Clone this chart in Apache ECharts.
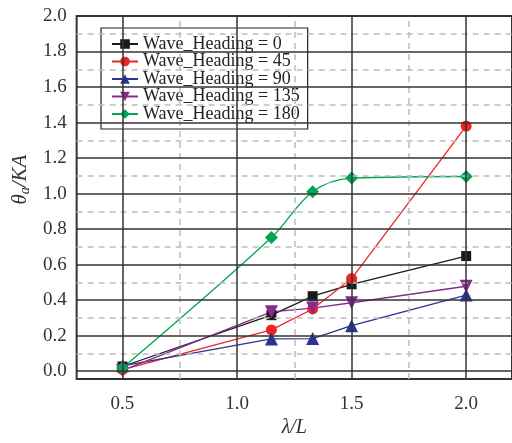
<!DOCTYPE html>
<html>
<head>
<meta charset="utf-8">
<script src="https://cdn.jsdelivr.net/npm/echarts@6/dist/echarts.min.js"></script>
<style>html,body{margin:0;padding:0;background:#fff;}#c{width:512px;height:443px;}</style>
</head>
<body>
<div id="c"></div>
<script>
const xValues = [0.5, 1.15, 1.33, 1.5, 2.0];
const heading0 = [0.026, 0.315, 0.422, 0.489, 0.648];
const heading45 = [0.008, 0.232, 0.35, 0.521, 1.38];
const heading90 = [0.03, 0.181, 0.183, 0.256, 0.428];
const heading135 = [0.004, 0.334, 0.355, 0.385, 0.478];
const heading180 = [0.017, 0.752, 1.01, 1.087, 1.096];
const seriesNames = ['Wave_Heading = 0', 'Wave_Heading = 45', 'Wave_Heading = 90', 'Wave_Heading = 135', 'Wave_Heading = 180'];
const xMajorTicks = [0.5, 1.0, 1.5, 2.0];
const xMinorTicks = [0.75, 1.25, 1.75];
const yMajorTicks = [0.0, 0.2, 0.4, 0.6, 0.8, 1.0, 1.2, 1.4, 1.6, 1.8, 2.0];
const yMinorTicks = [0.1, 0.3, 0.5, 0.7, 0.9, 1.1, 1.3, 1.5, 1.7, 1.9];

const FONT = '"Liberation Serif", "Times New Roman", serif';
const pairs = arr => xValues.map((x, i) => [x, arr[i]]);

const styles = [
  {c: '#1a1a1a', s: 'rect', size: 10},
  {c: '#ee2424', s: 'circle', size: 11},
  {c: '#2b3393', s: 'triangle', size: 13},
  {c: '#862a8e', s: 'path://M0,0 L10,0 L5,9 Z', size: 13},
  {c: '#00a651', s: 'diamond', size: 13}
];
const dataSets = [heading0, heading45, heading90, heading135, heading180];

const series = dataSets.map((d, i) => ({
  name: seriesNames[i],
  type: 'line',
  data: pairs(d),
  symbol: styles[i].s,
  symbolSize: styles[i].size,
  smooth: i === 4 ? 0.35 : false,
  itemStyle: {color: styles[i].c},
  lineStyle: {color: styles[i].c, width: 1.3},
  z: 3
}));

const gridLineSeries = (name, xs, ys, lineStyle, z) => ({
  name: name,
  type: 'line',
  data: [],
  z: z,
  silent: true,
  markLine: {
    silent: true,
    animation: false,
    symbol: ['none', 'none'],
    label: {show: false},
    emphasis: {disabled: true},
    lineStyle: lineStyle,
    data: ys.map(v => ({yAxis: v})).concat(xs.map(v => ({xAxis: v})))
  }
});

series.unshift(
  gridLineSeries('minor', xMinorTicks, yMinorTicks, {color: '#bdbdbd', type: [6, 5], width: 1.5}, 1),
  gridLineSeries('major', xMajorTicks, yMajorTicks.slice(0, -1), {color: '#333', type: 'solid', width: 1.5}, 2)
);

const chart = echarts.init(document.getElementById('c'), null, {renderer: 'canvas'});
chart.setOption({
  animation: false,
  backgroundColor: '#fff',
  grid: {
    left: 76, right: -4, top: 16, bottom: 62,
    show: true, borderColor: '#333', borderWidth: 2, backgroundColor: 'transparent'
  },
  legend: {
    data: seriesNames,
    orient: 'vertical',
    left: 101, top: 28,
    padding: [7, 8, 6, 10],
    itemWidth: 26, itemHeight: 12, itemGap: -0.5,
    backgroundColor: '#fff',
    borderColor: '#222', borderWidth: 1.2,
    textStyle: {fontFamily: FONT, fontSize: 18, color: '#222', lineHeight: 14}
  },
  xAxis: {
    type: 'value',
    min: 0.3, max: 2.2,
    name: 'λ/L',
    nameLocation: 'middle',
    nameGap: 31,
    nameTextStyle: {fontFamily: FONT, fontSize: 20, fontStyle: 'italic', color: '#333'},
    axisLine: {show: false},
    axisTick: {show: false},
    axisLabel: {
      fontFamily: FONT, fontSize: 19, color: '#333', margin: 15,
      customValues: xMajorTicks,
      formatter: v => v.toFixed(1)
    },
    splitLine: {show: false}
  },
  yAxis: {
    type: 'value',
    min: -0.045, max: 2.0,
    name: '{i|θ}{s|a}{i|/KA}',
    nameLocation: 'middle',
    nameGap: 39,
    nameTextStyle: {
      padding: [0, 0, 0, 36],
      rich: {
        i: {fontFamily: FONT, fontSize: 21, fontStyle: 'italic', color: '#333', lineHeight: 24},
        s: {fontFamily: FONT, fontSize: 14, fontStyle: 'italic', color: '#333', lineHeight: 24, padding: [10, 0, 0, 0]}
      }
    },
    axisLine: {show: false},
    axisTick: {show: false},
    axisLabel: {
      fontFamily: FONT, fontSize: 19, color: '#333', margin: 10,
      customValues: yMajorTicks,
      formatter: v => v.toFixed(1)
    },
    splitLine: {show: false}
  },
  series: series
});
</script>
</body>
</html>
